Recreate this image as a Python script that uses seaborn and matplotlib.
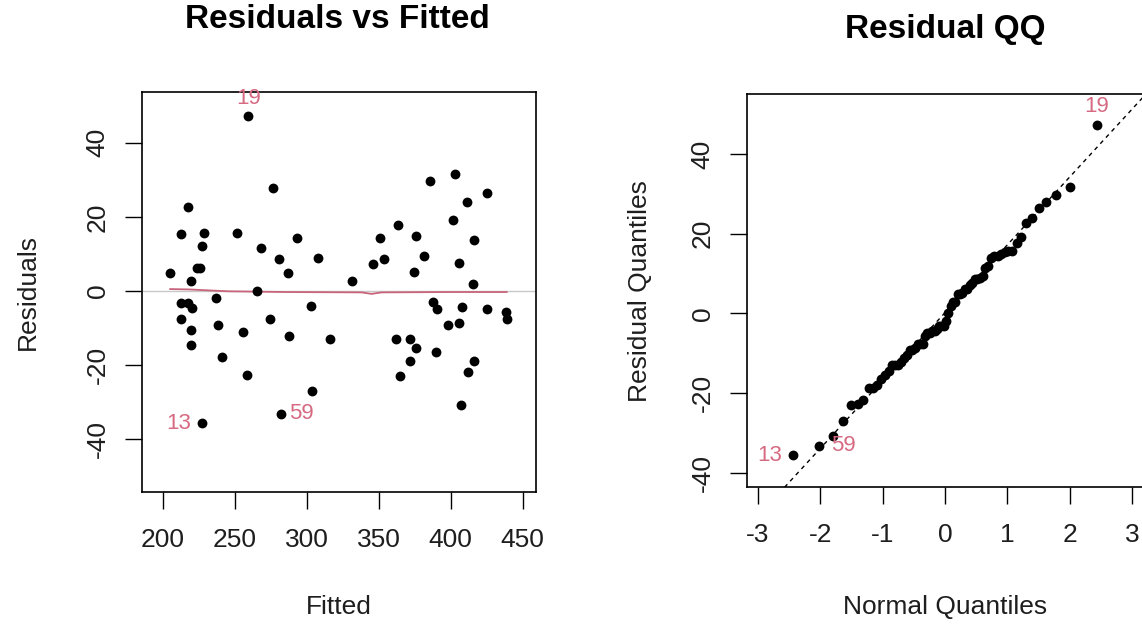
import numpy as np
import pandas as pd
import matplotlib
matplotlib.use("Agg")
import matplotlib.pyplot as plt
import seaborn as sns
from statistics import NormalDist

# fitted values and residuals (obs number = position + 1)
fitted = [276.8, 217.4, 212.5, 228.7, 251.8, 227.1, 268.3, 293.1, 280.8, 307.8,
          223.6, 225.9, 227.3, 205.1, 286.8, 219.9, 265.5, 237.0, 259.4, 212.5,
          217.8, 220.1, 302.8, 212.5, 274.5, 238.4, 219.9, 256.0, 287.9, 316.4,
          219.9, 241.0, 258.3, 303.7, 403.0, 385.6, 425.4, 411.3, 401.4, 363.4,
          350.9, 375.7, 416.4, 381.7, 353.5, 345.8, 405.6, 374.5, 331.3, 415.3,
          387.9, 390.7, 407.8, 425.4, 438.2, 439.1, 397.9, 405.6, 281.9, 362.2,
          371.7, 375.9, 389.6, 371.9, 416.4, 411.8, 364.5, 406.9]
residuals = [27.9, 22.6, 15.4, 15.7, 15.7, 12.0, 11.5, 14.4, 8.6, 9.0,
             6.1, 6.1, -35.7, 4.8, 4.8, 2.8, 0.1, -2.0, 47.2, -3.3,
             -3.3, -4.5, -4.0, -7.6, -7.6, -9.2, -10.5, -11.1, -12.1, -13.0,
             -14.6, -17.9, -22.7, -27.0, 31.7, 29.8, 26.4, 24.0, 19.2, 17.8,
             14.4, 14.9, 13.8, 9.5, 8.6, 7.2, 7.6, 5.2, 2.8, 1.9,
             -3.1, -4.9, -4.4, -4.9, -5.7, -7.6, -9.2, -8.7, -33.2, -13.0,
             -13.0, -15.5, -16.4, -18.8, -18.8, -21.8, -23.1, -30.8]

# smoother through the residuals
smooth_x = [205, 218, 245, 285, 338, 345, 352, 400, 439]
smooth_y = [0.5, 0.4, -0.1, -0.3, -0.4, -0.8, -0.4, -0.3, -0.3]

flagged = [13, 19, 59]  # observation numbers labelled on the plots

df = pd.DataFrame({"obs": np.arange(1, len(fitted) + 1), "fitted": fitted, "resid": residuals})

# normal quantiles like R's qqnorm (ppoints with a = 0.5)
n = len(df)
nd = NormalDist()
df = df.sort_values("resid").reset_index(drop=True)
df["theo"] = [nd.inv_cdf((i + 0.5) / n) for i in range(n)]
df = df.sort_values("obs").reset_index(drop=True)

# qqline through the quartiles
q1, q3 = np.quantile(df["resid"], [0.25, 0.75])
z1, z3 = nd.inv_cdf(0.25), nd.inv_cdf(0.75)
slope = (q3 - q1) / (z3 - z1)
intercept = q1 - slope * z1

sns.set_theme(style="white")
plt.rcParams["font.family"] = ["Liberation Sans", "DejaVu Sans"]
plt.rcParams["axes.unicode_minus"] = False

pink = "#d66a82"
line_red = "#c8647c"
ink = "#1e1e1e"

fig = plt.figure(figsize=(11.42, 6.31), dpi=100)
ax1 = fig.add_axes([0.1241, 0.2203, 0.345, 0.6344])
ax2 = fig.add_axes([0.6539, 0.2277, 0.347, 0.6233])

# left: residuals vs fitted
ax1.axhline(0, color="#c8c8c8", lw=1, zorder=1)
sns.lineplot(x=smooth_x, y=smooth_y, ax=ax1, color=line_red, lw=1.3, sort=False, zorder=2)
sns.scatterplot(data=df, x="fitted", y="resid", ax=ax1, color="black", s=50,
                linewidth=0, zorder=3)
left_off = {13: (-17, 0), 19: (0, 13), 59: (15, 0)}
for _, r in df[df["obs"].isin(flagged)].iterrows():
    ax1.annotate(str(int(r["obs"])), (r["fitted"], r["resid"]), xytext=left_off[int(r["obs"])],
                 textcoords="offset points", ha="center", va="center", color=pink, fontsize=16)
ax1.set_xlim(185.4, 459)
ax1.set_ylim(-54.3, 53.8)
ax1.set_xticks([200, 250, 300, 350, 400, 450])
ax1.set_yticks([-40, -20, 0, 20, 40])
ax1.set_xlabel("Fitted", fontsize=19, color=ink)
ax1.set_ylabel("Residuals", fontsize=19, color=ink)
ax1.xaxis.set_label_coords(0.5, -0.257)
ax1.yaxis.set_label_coords(-0.258, 0.5)
fig.text(337.5 / 1142, 1 - 28 / 631, "Residuals vs Fitted", ha="center", va="baseline",
         fontsize=24, fontweight="bold", color="black")

# right: normal QQ of residuals
ax2.axline((0, intercept), slope=slope, color="black", lw=1, ls=(0, (3, 3)), zorder=1)
sns.scatterplot(data=df, x="theo", y="resid", ax=ax2, color="black", s=50,
                linewidth=0, zorder=3)
qq_off = {13: (-17, 0), 19: (0, 14), 59: (17, 0)}
for _, r in df[df["obs"].isin(flagged)].iterrows():
    ax2.annotate(str(int(r["obs"])), (r["theo"], r["resid"]), xytext=qq_off[int(r["obs"])],
                 textcoords="offset points", ha="center", va="center", color=pink, fontsize=16)
ax2.set_xlim(-3.18, 3.18)
ax2.set_ylim(-43.7, 55.1)
ax2.set_xticks([-3, -2, -1, 0, 1, 2, 3])
ax2.set_yticks([-40, -20, 0, 20, 40])
ax2.set_xlabel("Normal Quantiles", fontsize=19, color=ink)
ax2.set_ylabel("Residual Quantiles", fontsize=19, color=ink)
ax2.xaxis.set_label_coords(0.5, -0.274)
ax2.yaxis.set_label_coords(-0.24, 0.5)
fig.text(945 / 1142, 1 - 37.7 / 631, "Residual QQ", ha="center", va="baseline",
         fontsize=24, fontweight="bold", color="black")

for ax in (ax1, ax2):
    for s in ax.spines.values():
        s.set_color("black")
        s.set_linewidth(1.2)
    ax.tick_params(axis="both", direction="out", length=12, width=1, color="black",
                   labelsize=19, labelcolor=ink, left=True, bottom=True)
    ax.tick_params(axis="x", pad=14)
    ax.tick_params(axis="y", pad=11)
    for lab in ax.get_yticklabels():
        lab.set_rotation(90)
        lab.set_va("center")
    ax.grid(False)
    ax.set_facecolor("white")

fig.savefig("out.png", dpi=100, facecolor="white")
